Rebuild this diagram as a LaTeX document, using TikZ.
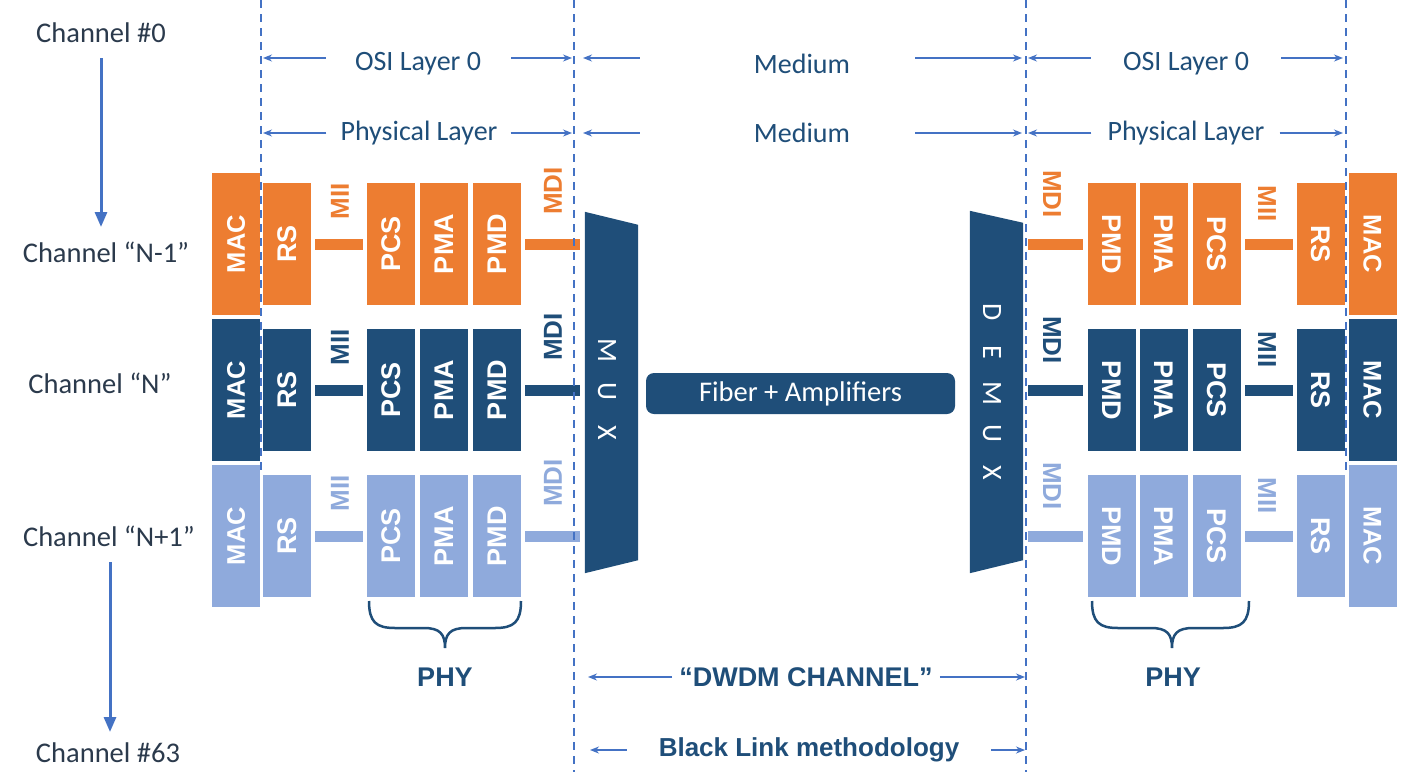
\documentclass[tikz,border=0pt]{standalone}
\usepackage{fontspec}
\setmainfont{Carlito}
\newfontfamily\arialf{Liberation Sans}
\usetikzlibrary{arrows.meta,calc}
\definecolor{corange}{HTML}{ED7D31}
\definecolor{cnavy}{HTML}{1F4E79}
\definecolor{clight}{HTML}{8FAADC}
\definecolor{cblue}{HTML}{4472C4}
\definecolor{ctext}{HTML}{1F4E79}
\definecolor{cchan}{HTML}{2B3A4C}
\tikzset{
  blk/.style={minimum width=48pt, minimum height=122pt, inner sep=0pt, text=white, font=\arialf\bfseries\fontsize{27}{29}\selectfont},
  macblk/.style={blk, minimum height=142pt, font=\arialf\bfseries\fontsize{25.5}{28}\selectfont},
  bar/.style={line width=11pt},
  lbl/.style={font=\arialf\bfseries\fontsize{26}{28}\selectfont, inner sep=0pt},
  layer/.style={font=\fontsize{28}{32}\selectfont, text=ctext, inner sep=0pt},
  dim/.style={cblue, line width=1.3pt, -{Stealth[length=9pt,width=7pt]}},
  vdash/.style={cblue, line width=1.8pt, dash pattern=on 8pt off 6pt},
  chan/.style={font=\fontsize{28.5}{32}\selectfont, text=cchan, inner sep=0pt},
  bigarrow/.style={cblue, line width=3pt, -{Triangle[length=15pt,width=12pt]}},
  bracepath/.style={cnavy, line width=2.5pt},
  boldlbl/.style={font=\arialf\bfseries\fontsize{27}{30}\selectfont, text=cnavy, inner sep=0pt},
  muxletter/.style={font=\fontsize{28}{32}\selectfont, text=white, inner sep=0pt}
}
\begin{document}
\begin{tikzpicture}[x=1pt,y=-1pt]
\useasboundingbox (0,0) rectangle (1409,772);
\fill[white] (0,0) rectangle (1409,772);

% dashed reference coordinates
\coordinate (d1) at (261,0);
\coordinate (d2) at (574,0);
\coordinate (d3) at (1026,0);
\coordinate (d4) at (1346,0);

% MUX / DEMUX
\node[minimum width=53pt, minimum height=361pt, inner sep=0pt] (mux) at (611.5,392.5) {};
\fill[cnavy] (mux.north west) -- ($(mux.north east)+(0,13)$) -- ($(mux.south east)+(0,-13)$) -- (mux.south west) -- cycle;
\foreach \l/\yy/\n in {M/350/1,U/391/2,X/433/3}
  \node[muxletter] (mux-\n) at (607,\yy) {\rotatebox{-90}{\l}};
\node[minimum width=53pt, minimum height=362pt, inner sep=0pt] (demux) at (996.5,392) {};
\fill[cnavy] (demux.north west) -- ($(demux.north east)+(0,12)$) -- ($(demux.south east)+(0,-13)$) -- (demux.south west) -- cycle;
\foreach \l/\yy/\n in {D/312/1,E/352/2,M/393/3,U/433/4,X/473/5}
  \node[muxletter] (demux-\n) at (992,\yy) {\rotatebox{-90}{\l}};

% Fiber
\node[fill=cnavy, rounded corners=8pt, minimum width=309pt, minimum height=41pt, inner sep=0pt, text=white, font=\fontsize{28.5}{32}\selectfont] (fiber) at (800.5,393.5) {Fiber + Amplifiers};

% Rows
\foreach \yy/\c/\r in {244/corange/o, 390/cnavy/d, 536/clight/l}{
  % left side
  \node[macblk, fill=\c] (lmac-\r) at (236,\yy) {\rotatebox{90}{MAC}};
  \node[blk, fill=\c] (lrs-\r) at (287,\yy) {\rotatebox{90}{RS}};
  \node[blk, fill=\c] (lpcs-\r) at (391,\yy) {\rotatebox{90}{PCS}};
  \node[blk, fill=\c] (lpma-\r) at (444,\yy) {\rotatebox{90}{PMA}};
  \node[blk, fill=\c] (lpmd-\r) at (497,\yy) {\rotatebox{90}{PMD}};
  \draw[bar, \c, shorten <=4pt, shorten >=4pt] (lrs-\r.east) -- (lpcs-\r.west);
  \draw[bar, \c, shorten <=4pt, shorten >=5pt] (lpmd-\r.east) -- (lpmd-\r.east -| mux.west);
  \node[lbl, text=\c] (lmii-\r) at (340,{\yy-43}) {\rotatebox{90}{MII}};
  \node[lbl, text=\c] (lmdi-\r) at (553,{\yy-53}) {\rotatebox{90}{MDI}};
  % right side
  \node[blk, fill=\c] (rpmd-\r) at (1111.5,\yy) {\rotatebox{-90}{PMD}};
  \node[blk, fill=\c] (rpma-\r) at (1164,\yy) {\rotatebox{-90}{PMA}};
  \node[blk, fill=\c] (rpcs-\r) at (1217,\yy) {\rotatebox{-90}{PCS}};
  \node[blk, fill=\c] (rrs-\r) at (1321,\yy) {\rotatebox{-90}{RS}};
  \node[macblk, fill=\c] (rmac-\r) at (1372.5,\yy) {\rotatebox{-90}{MAC}};
  \draw[bar, \c, shorten <=4pt, shorten >=4pt] (rpcs-\r.east) -- (rrs-\r.west);
  \draw[bar, \c, shorten <=5pt, shorten >=4pt] (rpmd-\r.west -| demux.east) -- (rpmd-\r.west);
  \node[lbl, text=\c] (rmii-\r) at (1267,{\yy-40}) {\rotatebox{-90}{MII}};
  \node[lbl, text=\c] (rmdi-\r) at (1052,{\yy-50}) {\rotatebox{-90}{MDI}};
}

% dashed lines
\draw[vdash] (d1) -- ++(0,470);
\draw[vdash] (d2) -- ++(0,772);
\draw[vdash] (d3) -- ++(0,772);
\draw[vdash] (d4) -- ++(0,470);

% layer labels, row 1
\node[layer] (osi-l) at (418,64) {OSI Layer 0};
\node[layer] (med-1) at (802,64) {Medium};
\node[layer] (osi-r) at (1186,64) {OSI Layer 0};
\draw[dim] ($(osi-l.west)+(-29,-6)$) -- ($(osi-l.west -| d1)+(2,-6)$);
\draw[dim] ($(osi-l.east)+(30,-6)$) -- ($(osi-l.east -| d2)+(-2,-6)$);
\draw[dim] ($(med-1.west)+(-114,-6)$) -- ($(med-1.west -| d2)+(9,-6)$);
\draw[dim] ($(med-1.east)+(65,-6)$) -- ($(med-1.east -| d3)+(-4,-6)$);
\draw[dim] ($(osi-r.west)+(-32,-6)$) -- ($(osi-r.west -| d3)+(2,-6)$);
\draw[dim] ($(osi-r.east)+(32,-6)$) -- ($(osi-r.east -| d4)+(-3,-6)$);

% layer labels, row 2
\node[layer] (phys-l) at (419,133) {Physical Layer};
\node[layer] (med-2) at (802,133) {Medium};
\node[layer] (phys-r) at (1186,133) {Physical Layer};
\draw[dim] ($(phys-l.west)+(-14,0)$) -- ($(phys-l.west -| d1)+(2,0)$);
\draw[dim] ($(phys-l.east)+(13,0)$) -- ($(phys-l.east -| d2)+(-2,0)$);
\draw[dim] ($(med-2.west)+(-114,0)$) -- ($(med-2.west -| d2)+(9,0)$);
\draw[dim] ($(med-2.east)+(65,0)$) -- ($(med-2.east -| d3)+(-4,0)$);
\draw[dim] ($(phys-r.west)+(-16,0)$) -- ($(phys-r.west -| d3)+(2,0)$);
\draw[dim] ($(phys-r.east)+(15,0)$) -- ($(phys-r.east -| d4)+(-3,0)$);

% channel labels
\node[chan] (ch0) at (101,33) {Channel \#0};
\node[chan] (chn1) at (106,252) {Channel “N-1”};
\node[chan] (chn) at (100,383) {Channel “N”};
\node[chan] (chn2) at (109,536) {Channel “N+1”};
\node[chan] (ch63) at (108,753) {Channel \#63};
\draw[bigarrow] ($(ch0.center)+(0,25)$) -- ($(ch0.center |- chn1.center)+(0,-25)$);
\draw[bigarrow] ($(chn2.center)+(1,26)$) -- ($(ch63.center)+(2,-21)$);

% braces
\draw[bracepath] (369,601) .. controls (369,622) and (376,628) .. (395,628) -- (424,628) .. controls (440,628) and (445,634) .. (445,648) .. controls (445,634) and (450,628) .. (466,628) -- (495,628) .. controls (514,628) and (521,622) .. (521,601);
\draw[bracepath] (1092,601) .. controls (1092,622) and (1099,628) .. (1118,628) -- (1151,628) .. controls (1167,628) and (1172,634) .. (1172,648) .. controls (1172,634) and (1177,628) .. (1193,628) -- (1223,628) .. controls (1242,628) and (1249,622) .. (1249,601);

% bottom labels
\node[boldlbl] (phy-l) at (445,677) {PHY};
\node[boldlbl] (phy-r) at (1173,677) {PHY};
\node[boldlbl] (dwdm) at (806,677) {“DWDM CHANNEL”};
\draw[dim] ($(dwdm.west)+(-7,0)$) -- ($(dwdm.west -| d2)+(14,0)$);
\draw[dim] ($(dwdm.east)+(7,0)$) -- ($(dwdm.east -| d3)+(-1,0)$);
\node[boldlbl, font=\arialf\bfseries\fontsize{26}{28}\selectfont] (black) at (809,750) {Black Link methodology};
\draw[dim] ($(black.west)+(-32,0)$) -- ($(black.west -| d2)+(16,0)$);
\draw[dim] ($(black.east)+(32,0)$) -- ($(black.east -| d3)+(-1,0)$);
\end{tikzpicture}
\end{document}
